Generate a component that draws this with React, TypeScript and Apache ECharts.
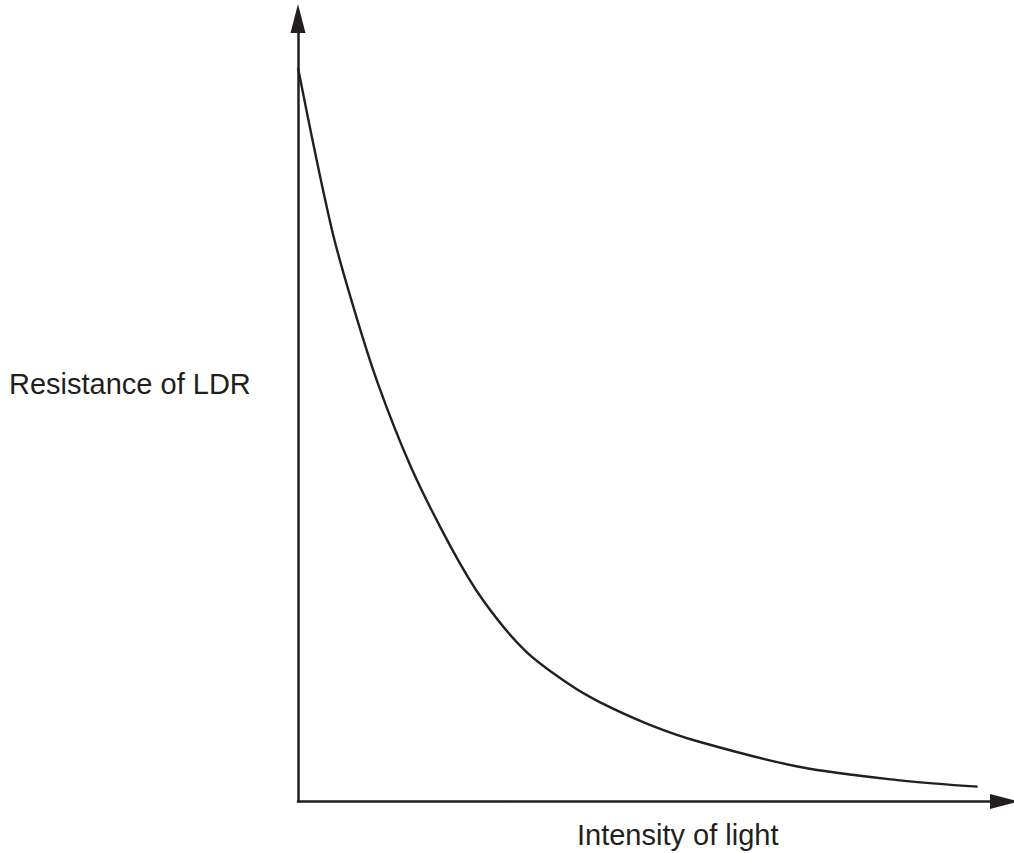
import React, { useEffect, useRef } from "react";
import * as echarts from "echarts";

// Light intensity (arbitrary units, 0–100) and LDR resistance (arbitrary units, 0–100)
const intensity = [0, 4.7, 7.8, 11.3, 16.0, 21.7, 26.2, 32.1, 38.5, 42.7, 49.8, 56.9, 71.1, 85.2, 96.2];
const resistance = [93.7, 73.4, 63.3, 53.4, 42.7, 32.4, 25.7, 19.3, 14.9, 12.7, 9.8, 7.6, 4.4, 2.7, 1.9];
const yLabel = "Resistance of LDR";
const xLabel = "Intensity of light";

const INK = "#231f20";
const FONT = "'Liberation Sans', Arial, sans-serif";

export default function App() {
  const ref = useRef<HTMLDivElement>(null);
  useEffect(() => {
    if (!ref.current) return;
    const chart = echarts.init(ref.current, null, { renderer: "svg" });
    const data = intensity.map((x, i) => [x, resistance[i]]);
    const axisLine = {
      show: true,
      symbol: ["none", "triangle"],
      symbolSize: [15, 29],
      lineStyle: { color: INK, width: 2.5 },
    };
    chart.setOption({
      animation: false,
      backgroundColor: "#ffffff",
      grid: { left: 298, right: 9.5, top: 18.5, bottom: 51.5 },
      xAxis: {
        type: "value",
        min: 0,
        max: 100,
        axisLine,
        axisTick: { show: false },
        axisLabel: { show: false },
        splitLine: { show: false },
      },
      yAxis: {
        type: "value",
        min: 0,
        max: 100,
        axisLine,
        axisTick: { show: false },
        axisLabel: { show: false },
        splitLine: { show: false },
      },
      graphic: [
        {
          type: "text",
          left: 9,
          top: 369,
          style: { text: yLabel, font: `29px ${FONT}`, fill: INK },
        },
        {
          type: "text",
          left: 577,
          top: 820,
          style: { text: xLabel, font: `29px ${FONT}`, fill: INK },
        },
      ],
      series: [
        {
          type: "line",
          data,
          smooth: 0.35,
          showSymbol: false,
          lineStyle: { color: INK, width: 2.4 },
        },
      ],
    });
    return () => chart.dispose();
  }, []);
  return (
    <div
      ref={ref}
      style={{ position: "absolute", left: 0, top: 0, width: 1014, height: 853 }}
    />
  );
}
